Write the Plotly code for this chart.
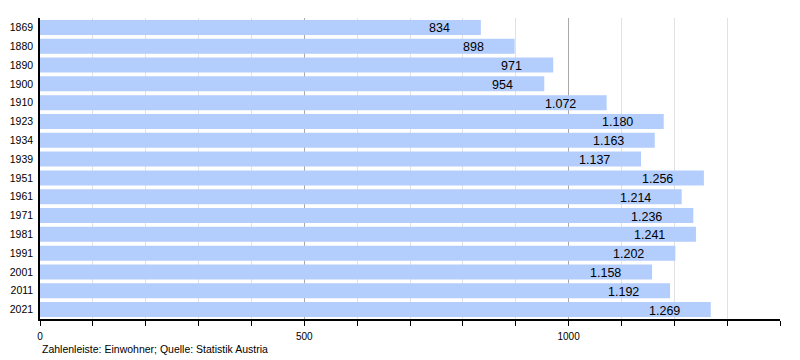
import plotly.graph_objects as go

years = ["1869", "1880", "1890", "1900", "1910", "1923", "1934", "1939",
         "1951", "1961", "1971", "1981", "1991", "2001", "2011", "2021"]
population = [834, 898, 971, 954, 1072, 1180, 1163, 1137,
              1256, 1214, 1236, 1241, 1202, 1158, 1192, 1269]
caption = "Zahlenleiste: Einwohner; Quelle: Statistik Austria"

def fmt(v):
    return f"{v:,}".replace(",", ".")

FONT = "Liberation Sans, Arial, sans-serif"

fig = go.Figure()
fig.add_trace(go.Bar(
    x=population, y=years, orientation="h",
    marker=dict(color="#b3cdfd", line=dict(width=0)),
    hoverinfo="skip",
))

for i, v in enumerate(population):
    fig.add_annotation(x=v, y=i, xref="x", yref="y", text=fmt(v),
                       showarrow=False, xanchor="right", xshift=-29, yshift=-1,
                       font=dict(family=FONT, size=12.5, color="#000"))

fig.add_annotation(x=0, y=0, xref="paper", yref="paper", yshift=-30,
                   text=caption, showarrow=False, xanchor="left", yanchor="middle",
                   font=dict(family=FONT, size=10.5, color="#000"))

# page has an 8px body margin; size/margins compensate for it
fig.update_layout(
    width=792, height=352,
    margin=dict(l=32, r=20, t=10, b=41, autoexpand=False),
    paper_bgcolor="white", plot_bgcolor="white",
    bargap=0.2, showlegend=False,
    font=dict(family=FONT, size=10.5, color="#000"),
    xaxis=dict(range=[0, 1400], dtick=500, tick0=0, tickformat="d",
               automargin=False, ticklabelstandoff=2,
               showgrid=True, gridcolor="#a8a8a8", gridwidth=1,
               ticks="outside", ticklen=5, tickcolor="#000",
               showline=True, linecolor="#000", linewidth=1.5,
               zeroline=False, tickfont=dict(size=10),
               minor=dict(dtick=100, showgrid=True, gridcolor="#e2e2e2",
                          ticks="outside", ticklen=5, tickcolor="#000")),
    yaxis=dict(type="category", range=[len(years) - 0.5, -0.5],
               automargin=False,
               showline=True, linecolor="#000", linewidth=1.5,
               ticks="", showgrid=False, tickfont=dict(size=10.5),
               ticklabelstandoff=3),
)

fig.write_html("out.html")
